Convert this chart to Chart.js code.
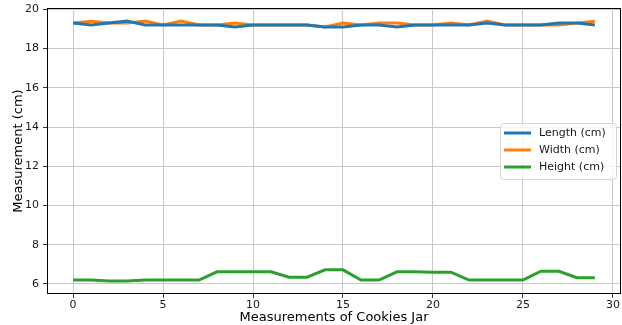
<!DOCTYPE html>
<html>
<head>
<meta charset="utf-8">
<script src="https://cdn.jsdelivr.net/npm/chart.js@4/dist/chart.umd.min.js"></script>
<style>
  html, body { margin: 0; padding: 0; background: #fff; }
  #wrap { width: 622px; height: 325px; }
</style>
</head>
<body>
<div id="wrap"><canvas id="c" width="622" height="325"></canvas></div>
<script>
// Measurement index 0..29
const measurementIndex = Array.from({length: 30}, (_, i) => i);

const lengthCm = [19.3, 19.2, 19.3, 19.4, 19.2, 19.2, 19.2, 19.2, 19.2, 19.1,
                  19.2, 19.2, 19.2, 19.2, 19.1, 19.1, 19.2, 19.2, 19.1, 19.2,
                  19.2, 19.2, 19.2, 19.3, 19.2, 19.2, 19.2, 19.3, 19.3, 19.2];

const widthCm  = [19.3, 19.4, 19.3, 19.3, 19.4, 19.2, 19.4, 19.2, 19.2, 19.3,
                  19.2, 19.2, 19.2, 19.2, 19.1, 19.3, 19.2, 19.3, 19.3, 19.2,
                  19.2, 19.3, 19.2, 19.4, 19.2, 19.2, 19.2, 19.2, 19.3, 19.4];

const heightCm = [6.2, 6.2, 6.15, 6.15, 6.2, 6.2, 6.2, 6.2, 6.62, 6.62,
                  6.62, 6.62, 6.35, 6.35, 6.72, 6.72, 6.2, 6.2, 6.62, 6.62,
                  6.6, 6.6, 6.2, 6.2, 6.2, 6.2, 6.65, 6.65, 6.32, 6.32];

const xTicks = [0, 5, 10, 15, 20, 25, 30];
const yTicks = [6, 8, 10, 12, 14, 16, 18, 20];

const seriesLabels = ['Length (cm)', 'Width (cm)', 'Height (cm)'];
const seriesColors = ['#1f77b4', '#ff7f0e', '#2ca02c'];

const FONT = "'DejaVu Sans', sans-serif";
const GRID = '#c8c8c8';

function toPoints(arr) {
  return arr.map((v, i) => ({x: measurementIndex[i], y: v}));
}

// Legend box drawn inside the plot area, right side
const boxLegend = {
  id: 'boxLegend',
  afterDraw(chart) {
    const ctx = chart.ctx;
    const left = 500.5, top = 123.5, w = 116, h = 56, r = 3;
    ctx.save();
    ctx.beginPath();
    ctx.moveTo(left + r, top);
    ctx.lineTo(left + w - r, top);
    ctx.arcTo(left + w, top, left + w, top + r, r);
    ctx.lineTo(left + w, top + h - r);
    ctx.arcTo(left + w, top + h, left + w - r, top + h, r);
    ctx.lineTo(left + r, top + h);
    ctx.arcTo(left, top + h, left, top + h - r, r);
    ctx.lineTo(left, top + r);
    ctx.arcTo(left, top, left + r, top, r);
    ctx.closePath();
    ctx.fillStyle = 'rgba(255,255,255,0.8)';
    ctx.fill();
    ctx.strokeStyle = '#d6d6d6';
    ctx.lineWidth = 1;
    ctx.stroke();

    ctx.font = '11px ' + FONT;
    ctx.textBaseline = 'middle';
    ctx.textAlign = 'left';
    chart.data.datasets.forEach((ds, i) => {
      const y = 133 + i * 17;
      ctx.beginPath();
      ctx.moveTo(504, y);
      ctx.lineTo(531, y);
      ctx.strokeStyle = ds.borderColor;
      ctx.lineWidth = 3;
      ctx.stroke();
      ctx.fillStyle = '#1a1a1a';
      ctx.fillText(ds.label, 539, y + 0.5);
    });
    ctx.restore();
  }
};

// Black frame around the plot area
const frame = {
  id: 'frame',
  afterDatasetsDraw(chart) {
    const a = chart.chartArea;
    const ctx = chart.ctx;
    ctx.save();
    ctx.strokeStyle = '#000';
    ctx.lineWidth = 1;
    ctx.strokeRect(Math.round(a.left) + 0.5, Math.round(a.top) + 0.5,
                   Math.round(a.right - a.left) - 1, Math.round(a.bottom - a.top) - 1);
    ctx.restore();
  }
};

new Chart(document.getElementById('c'), {
  type: 'line',
  data: {
    datasets: [lengthCm, widthCm, heightCm].map((arr, i) => ({
      label: seriesLabels[i],
      data: toPoints(arr),
      borderColor: seriesColors[i],
      backgroundColor: seriesColors[i],
      borderWidth: 3,
      pointRadius: 0,
      tension: 0,
      fill: false
    }))
  },
  options: {
    responsive: false,
    animation: false,
    devicePixelRatio: 1,
    layout: { padding: { top: 8, right: 1, left: 0, bottom: 0 } },
    plugins: {
      legend: { display: false },
      tooltip: { enabled: false }
    },
    scales: {
      x: {
        type: 'linear',
        min: -1.45,
        max: 30.45,
        afterBuildTicks(s) { s.ticks = xTicks.map(v => ({value: v})); },
        afterFit(s) { s.height = 31; s.paddingLeft = 0; s.paddingRight = 0; },
        grid: {
          color: GRID,
          lineWidth: 1,
          drawTicks: true,
          tickLength: 4,
          tickColor: '#000',
          tickWidth: 0.8
        },
        border: { display: false },
        ticks: {
          color: '#1a1a1a',
          font: { family: FONT, size: 11 },
          padding: 1,
          maxRotation: 0,
          callback: v => String(v)
        },
        title: {
          display: true,
          text: 'Measurements of Cookies Jar',
          color: '#000',
          font: { family: FONT, size: 13 },
          padding: { top: 0, bottom: 0 }
        }
      },
      y: {
        type: 'linear',
        min: 5.49,
        max: 20.07,
        afterBuildTicks(s) { s.ticks = yTicks.map(v => ({value: v})); },
        afterFit(s) { s.width = 47; s.paddingTop = 0; s.paddingBottom = 0; },
        grid: {
          color: GRID,
          lineWidth: 1,
          drawTicks: true,
          tickLength: 4,
          tickColor: '#000',
          tickWidth: 0.8
        },
        border: { display: false },
        ticks: {
          color: '#1a1a1a',
          font: { family: FONT, size: 11 },
          padding: 4,
          callback: v => String(v)
        },
        title: {
          display: true,
          text: 'Measurement (cm)',
          color: '#000',
          font: { family: FONT, size: 13 },
          padding: { top: 11, bottom: 0 }
        }
      }
    }
  },
  plugins: [frame, boxLegend]
});
</script>
</body>
</html>
